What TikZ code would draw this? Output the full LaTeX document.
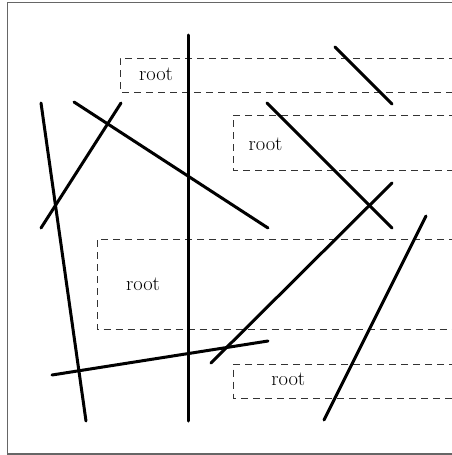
\documentclass[tikz,border=0pt]{standalone}
\begin{document}
\begin{tikzpicture}[x=1pt,y=-1pt,
  stick/.style={line width=3pt,line cap=round},
  dbox/.style={draw=black!80,line width=0.9pt,dash pattern=on 7pt off 5pt},
  lbl/.style={font=\fontsize{20.5}{24}\selectfont,inner sep=0pt}]
\useasboundingbox (0,0) rectangle (452,455);
\draw[black!60,line width=1.2pt] (7.3,2.3) rectangle (480,454);
% dashed boxes
\draw[dbox] (480,58) -- (120,58) -- (120,92) -- (480,92);
\draw[dbox] (480,115) -- (233,115) -- (233,170) -- (480,170);
\draw[dbox] (480,239) -- (97,239) -- (97,329.5) -- (480,329.5);
\draw[dbox] (480,364) -- (233.5,364) -- (233.5,398) -- (480,398);
\node[lbl] (r1) at (156,74.5) {root};
\node[lbl] (r2) at (265.5,144) {root};
\node[lbl] (r3) at (143,283.8) {root};
\node[lbl] (r4) at (288.3,379.5) {root};
% sticks
\coordinate (v1) at (188,35);  \coordinate (v2) at (188,421);
\coordinate (a1) at (41,103);  \coordinate (a2) at (86,421);
\coordinate (b1) at (74,102);  \coordinate (b2) at (268,228);
\coordinate (c1) at (121,103); \coordinate (c2) at (41,228);
\coordinate (d1) at (335,47);  \coordinate (d2) at (392,104);
\coordinate (e1) at (267,103); \coordinate (e2) at (392,228);
\coordinate (f1) at (392,183); \coordinate (f2) at (211,363);
\coordinate (g1) at (426,216); \coordinate (g2) at (324,420);
\coordinate (h1) at (52,375);  \coordinate (h2) at (268,341);
\foreach \p in {v,a,b,c,d,e,f,g,h} \draw[stick] (\p1) -- (\p2);
\end{tikzpicture}
\end{document}
